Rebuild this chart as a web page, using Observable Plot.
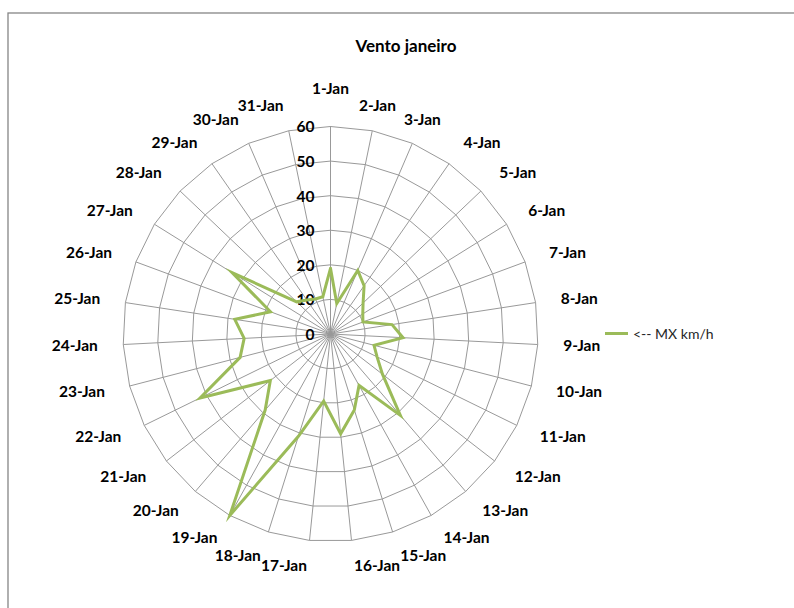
<!DOCTYPE html>
<html>
<head>
<meta charset="utf-8">
<script src="https://cdn.jsdelivr.net/npm/d3@7"></script>
<script src="https://cdn.jsdelivr.net/npm/@observablehq/plot@0.6"></script>
<style>
  html, body { margin: 0; padding: 0; background: #fff; overflow: hidden; }
  #chart { position: relative; width: 794px; height: 608px; }
  .legend { position: absolute; left: 605px; top: 324px; height: 18px; display: flex; align-items: center;
            font: 14px Lato, sans-serif; color: #262626; }
  .legend .swatch { width: 23px; height: 3px; background: #9BBB59; margin-right: 5px; }
</style>
</head>
<body>
<div id="chart"></div>
<script>
// Daily maximum wind (km/h) for January
const days = ["1-Jan","2-Jan","3-Jan","4-Jan","5-Jan","6-Jan","7-Jan","8-Jan","9-Jan","10-Jan",
  "11-Jan","12-Jan","13-Jan","14-Jan","15-Jan","16-Jan","17-Jan","18-Jan","19-Jan","20-Jan",
  "21-Jan","22-Jan","23-Jan","24-Jan","25-Jan","26-Jan","27-Jan","28-Jan","29-Jan","30-Jan","31-Jan"];
const mxKmh = [19, 9, 20, 17, 13, 11, 10, 18, 21, 13,
  15, 19, 31, 17, 23, 29, 19.5, 31, 60, 29,
  22, 42, 27, 25, 28, 18.5, 33.5, 13.5, 12, 11, 11];
const ringValues = [10, 20, 30, 40, 50, 60];
const tickValues = [0, 10, 20, 30, 40, 50, 60];
const seriesName = "<-- MX km/h";
const chartTitle = "Vento janeiro";

const W = 794, H = 608;
const cx = 330, cy = 333.5;       // pole of the radar, in pixels
const rMax = 60, rPx = 207.5;     // outer ring value and its radius in pixels
const k = rPx / rMax;             // pixels per km/h
const n = days.length;

const angle = i => 2 * Math.PI * i / n;          // clockwise from north
const px = (r, i) => r * Math.sin(angle(i));
const py = (r, i) => r * Math.cos(angle(i));     // y grows upward

// polygonal rings, closed by repeating the first vertex
const ringPts = ringValues.flatMap(v =>
  d3.range(n + 1).map(j => ({ring: v, x: px(v, j % n), y: py(v, j % n)})));
const spokes = days.map((d, i) => ({x: px(rMax, i), y: py(rMax, i)}));
const series = d3.range(n + 1).map(j => ({x: px(mxKmh[j % n], j % n), y: py(mxKmh[j % n], j % n)}));

// category labels: outside the outer ring, anchored away from the pole
const labelSize = 15.5;
const ctx = document.createElement("canvas").getContext("2d");
ctx.font = `bold ${labelSize}px Lato`;
const labels = days.map((d, i) => {
  const a = angle(i), s = Math.sin(a), c = Math.cos(a);
  const w = ctx.measureText(d).width;
  const r0 = 233;
  let x = s * r0, y = c * r0;
  const deg = a * 180 / Math.PI;
  if (i === 0) y += 12;
  else if (deg >= 30) x += Math.sign(s) * w / 2;
  return {label: d, x: x / k, y: y / k};
});

const plot = Plot.plot({
  width: W,
  height: H,
  margin: 0,
  x: {domain: [-cx / k, (W - cx) / k], axis: null},
  y: {domain: [-(H - cy) / k, cy / k], axis: null},
  style: {fontFamily: "Lato, sans-serif", background: "white", overflow: "hidden"},
  marks: [
    Plot.frame({stroke: "#868686", strokeWidth: 1.3, insetLeft: 7.5, insetTop: 12.5, insetRight: -20, insetBottom: -20}),
    Plot.link(spokes, {x1: () => 0, y1: () => 0, x2: "x", y2: "y", stroke: "#999", strokeWidth: 1}),
    Plot.line(ringPts, {x: "x", y: "y", z: "ring", stroke: "#999", strokeWidth: 1}),
    Plot.text(tickValues, {x: () => 0, y: d => d, text: d => String(d), textAnchor: "end", dx: -16, dy: 1,
      fontWeight: "bold", fontSize: labelSize, fill: "black"}),
    Plot.line(series, {x: "x", y: "y", stroke: "#9BBB59", strokeWidth: 3, strokeLinejoin: "miter", strokeMiterlimit: 10}),
    Plot.text(labels, {x: "x", y: "y", text: "label", fontWeight: "bold", fontSize: labelSize, fill: "black"}),
    Plot.text([chartTitle], {frameAnchor: "top", dx: 8.5, dy: 39, fontWeight: "bold", fontSize: 17, fill: "black"})
  ]
});

const chart = document.getElementById("chart");
chart.appendChild(plot);
const legend = document.createElement("div");
legend.className = "legend";
legend.innerHTML = `<span class="swatch"></span><span></span>`;
legend.lastChild.textContent = seriesName;
chart.appendChild(legend);
</script>
</body>
</html>
